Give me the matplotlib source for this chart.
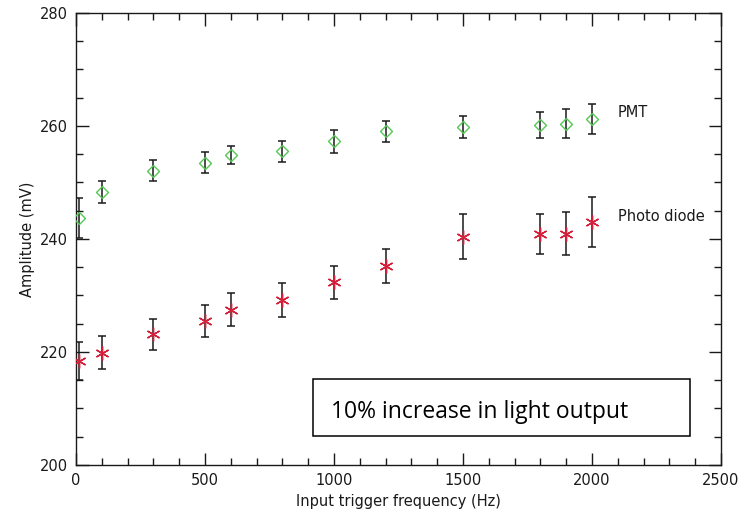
import matplotlib
matplotlib.use("Agg")
import matplotlib.pyplot as plt
from matplotlib.patches import Rectangle
from matplotlib.ticker import MultipleLocator

# Input trigger frequency (Hz)
freq = [10, 100, 300, 500, 600, 800, 1000, 1200, 1500, 1800, 1900, 2000]

# PMT amplitude (mV) and its uncertainty
pmt_amp = [243.7, 248.3, 252.1, 253.5, 254.9, 255.5, 257.3, 259.1, 259.9, 260.2, 260.4, 261.3]
pmt_err = [3.5, 2.0, 1.8, 1.9, 1.6, 1.9, 2.0, 1.85, 1.95, 2.3, 2.6, 2.65]

# Photo diode amplitude (mV) and its uncertainty
pd_amp = [218.4, 219.9, 223.1, 225.5, 227.5, 229.2, 232.3, 235.2, 240.4, 240.9, 240.9, 243.0]
pd_err = [3.3, 2.9, 2.8, 2.9, 2.9, 3.0, 2.9, 3.0, 4.0, 3.55, 3.8, 4.45]

x_ticks = [0, 500, 1000, 1500, 2000, 2500]
y_ticks = [200, 220, 240, 260, 280]

ink = "#1a1a1a"
fs = 10.5

fig = plt.figure(figsize=(7.44, 5.15), dpi=100)
ax = fig.add_axes([0.1022, 0.0971, 0.8668, 0.8777])

err_style = dict(fmt="none", ecolor=ink, elinewidth=1.1, capsize=3.2, capthick=1.1, zorder=2)

ax.errorbar(freq, pmt_amp, yerr=pmt_err, **err_style)
ax.plot(freq, pmt_amp, linestyle="none", marker="D", markersize=6.5,
        markerfacecolor="none", markeredgecolor="#55c855", markeredgewidth=1.0, zorder=3)

ax.errorbar(freq, pd_amp, yerr=pd_err, **err_style)
ax.plot(freq, pd_amp, linestyle="none", marker=(6, 2, 0), markersize=10,
        markeredgecolor="#d4203a", markeredgewidth=1.0, zorder=3)

ax.text(2100, 262.3, "PMT", fontsize=fs, color=ink, va="center", ha="left")
ax.text(2100, 243.9, "Photo diode", fontsize=fs, color=ink, va="center", ha="left")

# annotation box
ax.add_patch(Rectangle((0.3674, 0.064), 0.5846, 0.126, transform=ax.transAxes,
                       facecolor="white", edgecolor="black", linewidth=1.1, zorder=4))
ax.text(0.395, 0.117, "10% increase in light output", transform=ax.transAxes,
        fontsize=16.5, family="Open Sans", color="black", va="center", ha="left", zorder=5)

ax.set_xlim(0, 2500)
ax.set_ylim(200, 280)
ax.set_xticks(x_ticks)
ax.set_yticks(y_ticks)
ax.xaxis.set_minor_locator(MultipleLocator(100))
ax.yaxis.set_minor_locator(MultipleLocator(5))
ax.tick_params(which="both", direction="in", top=True, right=True, colors=ink,
               labelsize=fs, width=1.0)
ax.tick_params(which="major", length=9, pad=6)
ax.tick_params(which="minor", length=5)
for s in ax.spines.values():
    s.set_linewidth(1.0)
    s.set_color(ink)

ax.set_xlabel("Input trigger frequency (Hz)", fontsize=fs, color=ink, labelpad=4)
ax.set_ylabel("Amplitude (mV)", fontsize=fs, color=ink, labelpad=3)

fig.savefig("out.png", dpi=100)
